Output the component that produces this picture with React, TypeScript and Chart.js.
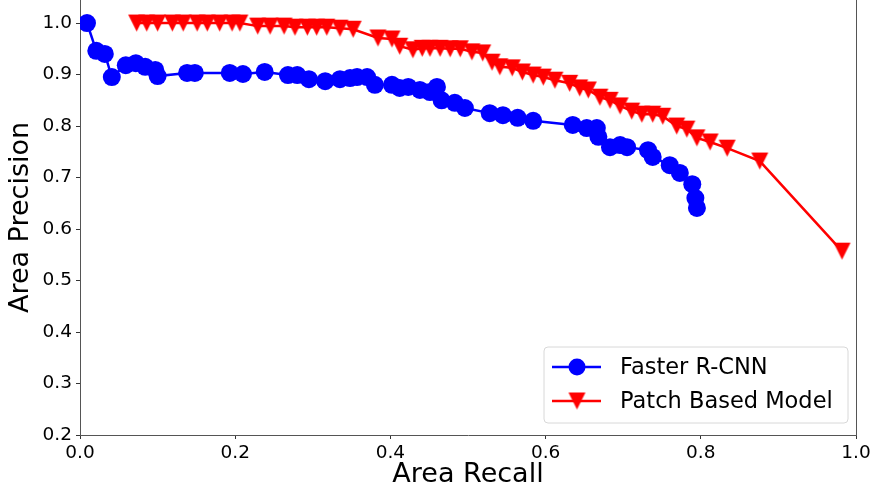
import React, { useEffect, useRef } from "react";
import { Chart, registerables } from "chart.js";

Chart.register(...registerables);

const fasterRecall = [
  0.009, 0.021, 0.032, 0.041, 0.059, 0.072, 0.084, 0.097, 0.1, 0.138, 0.148, 0.193, 0.21, 0.238,
  0.268, 0.28, 0.295, 0.316, 0.335, 0.348, 0.357, 0.37, 0.38, 0.402, 0.412, 0.423, 0.438, 0.451,
  0.46, 0.466, 0.483, 0.496, 0.528, 0.545, 0.564, 0.584, 0.635, 0.653, 0.666, 0.668, 0.683, 0.696,
  0.705, 0.732, 0.738, 0.76, 0.773, 0.789, 0.793, 0.795,
];
const fasterPrecision = [
  1.0, 0.946, 0.94, 0.895, 0.918, 0.922, 0.915, 0.909, 0.897, 0.903, 0.903, 0.903, 0.901, 0.905,
  0.899, 0.899, 0.891, 0.887, 0.891, 0.893, 0.895, 0.895, 0.88, 0.88, 0.874, 0.876, 0.87, 0.866,
  0.876, 0.85, 0.845, 0.835, 0.825, 0.821, 0.816, 0.81, 0.802, 0.796, 0.796, 0.779, 0.759, 0.763,
  0.759, 0.753, 0.74, 0.724, 0.709, 0.687, 0.66, 0.641,
];
const patchRecall = [
  0.073, 0.086, 0.1, 0.119, 0.133, 0.151, 0.164, 0.18, 0.196, 0.206, 0.229, 0.245, 0.263, 0.277,
  0.293, 0.305, 0.318, 0.335, 0.352, 0.384, 0.402, 0.412, 0.429, 0.441, 0.451, 0.464, 0.477, 0.49,
  0.505, 0.519, 0.531, 0.541, 0.557, 0.57, 0.584, 0.597, 0.612, 0.631, 0.644, 0.655, 0.67, 0.683,
  0.696, 0.711, 0.724, 0.738, 0.751, 0.769, 0.782, 0.795, 0.812, 0.834, 0.876, 0.982,
];
const patchPrecision = [
  1.0, 1.0, 1.0, 1.0, 1.0, 1.0, 1.0, 1.0, 1.0, 1.0, 0.994, 0.994, 0.994, 0.992,
  0.992, 0.992, 0.992, 0.99, 0.988, 0.971, 0.969, 0.955, 0.948, 0.951, 0.951, 0.951, 0.95, 0.95,
  0.944, 0.942, 0.924, 0.915, 0.913, 0.905, 0.899, 0.895, 0.889, 0.883, 0.874, 0.87, 0.856, 0.85,
  0.839, 0.829, 0.823, 0.823, 0.819, 0.8, 0.794, 0.777, 0.769, 0.757, 0.732, 0.557,
];
const xTicks = [0.0, 0.2, 0.4, 0.6, 0.8, 1.0];
const yTicks = [0.2, 0.3, 0.4, 0.5, 0.6, 0.7, 0.8, 0.9, 1.0];
const seriesNames = ["Faster R-CNN", "Patch Based Model"];

const FONT = "'DejaVu Sans', sans-serif";

function makeTriangle(size: number, color: string): HTMLCanvasElement {
  const c = document.createElement("canvas");
  c.width = size + 2;
  c.height = size + 2;
  const ctx = c.getContext("2d")!;
  ctx.fillStyle = color;
  ctx.beginPath();
  ctx.moveTo(1, 1);
  ctx.lineTo(size + 1, 1);
  ctx.lineTo(size / 2 + 1, size + 1);
  ctx.closePath();
  ctx.fill();
  return c;
}

export default function App() {
  const ref = useRef<HTMLCanvasElement>(null);

  useEffect(() => {
    document.body.style.margin = "0";
    const canvas = ref.current!;
    const tri = makeTriangle(17, "#ff0000");

    const legendPlugin = {
      id: "customLegend",
      afterDraw(chart: any) {
        const ctx = chart.ctx as CanvasRenderingContext2D;
        ctx.save();
        const a = chart.chartArea;
        ctx.strokeStyle = "#555";
        ctx.lineWidth = 1;
        ctx.beginPath();
        ctx.moveTo(Math.round(a.right) + 0.5, a.top);
        ctx.lineTo(Math.round(a.right) + 0.5, a.bottom);
        ctx.stroke();

        const bx = 544, by = 347, bw = 304, bh = 76, r = 4;
        ctx.beginPath();
        ctx.moveTo(bx + r, by);
        ctx.lineTo(bx + bw - r, by);
        ctx.quadraticCurveTo(bx + bw, by, bx + bw, by + r);
        ctx.lineTo(bx + bw, by + bh - r);
        ctx.quadraticCurveTo(bx + bw, by + bh, bx + bw - r, by + bh);
        ctx.lineTo(bx + r, by + bh);
        ctx.quadraticCurveTo(bx, by + bh, bx, by + bh - r);
        ctx.lineTo(bx, by + r);
        ctx.quadraticCurveTo(bx, by, bx + r, by);
        ctx.closePath();
        ctx.fillStyle = "rgba(255,255,255,0.8)";
        ctx.fill();
        ctx.strokeStyle = "#d8d8d8";
        ctx.lineWidth = 1;
        ctx.stroke();

        const rows = [
          { y: 367, color: "#0000ff", name: seriesNames[0], marker: "circle" },
          { y: 401, color: "#ff0000", name: seriesNames[1], marker: "tri" },
        ];
        for (const row of rows) {
          ctx.strokeStyle = row.color;
          ctx.lineWidth = 2.5;
          ctx.beginPath();
          ctx.moveTo(552, row.y);
          ctx.lineTo(601, row.y);
          ctx.stroke();
          if (row.marker === "circle") {
            ctx.fillStyle = row.color;
            ctx.beginPath();
            ctx.arc(577, row.y, 8.5, 0, Math.PI * 2);
            ctx.fill();
          } else {
            ctx.drawImage(tri, 577 - tri.width / 2, row.y - tri.height / 2);
          }
          ctx.fillStyle = "#000";
          ctx.font = `22.5px ${FONT}`;
          ctx.textBaseline = "middle";
          ctx.textAlign = "left";
          ctx.fillText(row.name, 620, row.y + 1);
        }
        ctx.restore();
      },
    };

    const chart = new Chart(canvas, {
      type: "scatter",
      data: {
        datasets: [
          {
            label: seriesNames[0],
            data: fasterRecall.map((x, i) => ({ x, y: fasterPrecision[i] })),
            showLine: true,
            borderColor: "#0000ff",
            backgroundColor: "#0000ff",
            borderWidth: 2.5,
            pointRadius: 9,
            pointHoverRadius: 9,
            pointBorderWidth: 0,
            pointStyle: "circle",
            order: 1,
          },
          {
            label: seriesNames[1],
            data: patchRecall.map((x, i) => ({ x, y: patchPrecision[i] })),
            showLine: true,
            borderColor: "#ff0000",
            backgroundColor: "#ff0000",
            borderWidth: 2.5,
            pointRadius: 9,
            pointHoverRadius: 9,
            pointBorderWidth: 0,
            pointStyle: tri,
            order: 0,
          },
        ],
      },
      options: {
        responsive: false,
        animation: false,
        events: [],
        layout: { autoPadding: false, padding: { top: 0, right: 23, bottom: 0, left: 0 } },
        plugins: {
          legend: { display: false },
          tooltip: { enabled: false },
        },
        scales: {
          x: {
            type: "linear",
            min: 0,
            max: 1,
            afterBuildTicks: (s: any) => {
              s.ticks = xTicks.map((v) => ({ value: v }));
            },
            afterFit: (s: any) => {
              s.height = 62;
              s.paddingLeft = 0;
              s.paddingRight = 0;
            },
            ticks: {
              color: "#000",
              font: { family: FONT, size: 18.5 },
              padding: 3,
              maxRotation: 0,
              autoSkip: false,
              callback: (v: any) => Number(v).toFixed(1),
            },
            grid: {
              drawOnChartArea: false,
              drawTicks: true,
              tickLength: 4,
              color: "#333",
            },
            border: { display: true, color: "#555", width: 1 },
            title: {
              display: true,
              text: "Area Recall",
              color: "#000",
              font: { family: FONT, size: 27 },
              padding: { top: 0, bottom: 6 },
            },
          },
          y: {
            type: "linear",
            min: 0.2,
            max: 1.0447,
            afterBuildTicks: (s: any) => {
              s.ticks = yTicks.map((v) => ({ value: v }));
            },
            afterFit: (s: any) => {
              s.width = 80;
              s.paddingTop = 0;
              s.paddingBottom = 0;
            },
            ticks: {
              color: "#000",
              font: { family: FONT, size: 18.5 },
              padding: 4,
              autoSkip: false,
              callback: (v: any) => Number(v).toFixed(1),
            },
            grid: {
              drawOnChartArea: false,
              drawTicks: true,
              tickLength: 4,
              color: "#333",
            },
            border: { display: true, color: "#555", width: 1 },
            title: {
              display: true,
              text: "Area Precision",
              color: "#000",
              font: { family: FONT, size: 27 },
              padding: { top: 5, bottom: 0 },
            },
          },
        },
      },
      plugins: [legendPlugin],
    });

    return () => {
      chart.destroy();
    };
  }, []);

  return (
    <div style={{ width: 879, height: 497, background: "#fff" }}>
      <canvas ref={ref} width={879} height={497} style={{ width: 879, height: 497, display: "block" }} />
    </div>
  );
}
